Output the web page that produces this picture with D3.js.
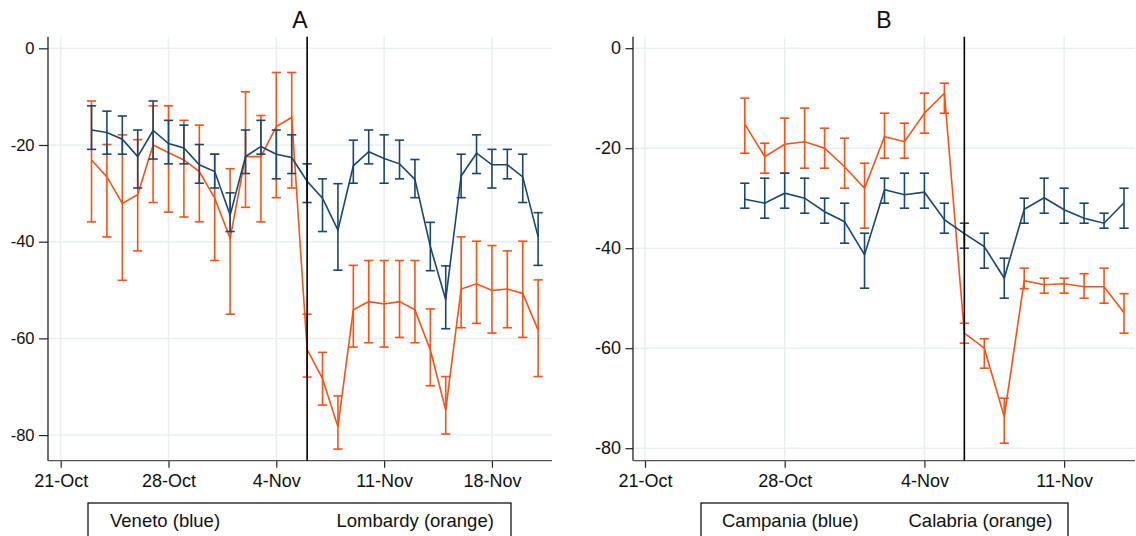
<!DOCTYPE html>
<html lang="en">
<head>
  <meta charset="utf-8">
  <title>Regional mobility around 6 Nov</title>
  <script src="https://d3js.org/d3.v7.min.js"></script>
  <style>
    body { margin: 0; background: #fff; }
    text { font-family: "Liberation Sans", Arial, sans-serif; fill: #111; }
  </style>
</head>
<body>
<svg width="1136" height="536"></svg>
<script>
  // ---- data ----
  var daysA = ["2020-10-23","2020-10-24","2020-10-25","2020-10-26","2020-10-27","2020-10-28","2020-10-29","2020-10-30","2020-10-31",
    "2020-11-01","2020-11-02","2020-11-03","2020-11-04","2020-11-05","2020-11-06","2020-11-07","2020-11-08","2020-11-09","2020-11-10",
    "2020-11-11","2020-11-12","2020-11-13","2020-11-14","2020-11-15","2020-11-16","2020-11-17","2020-11-18","2020-11-19","2020-11-20","2020-11-21"];
  var venetoMean = [-16.9,-17.4,-18.8,-22.4,-17,-19.7,-20.6,-24.1,-25.5,-34.5,-22.4,-20.3,-21.9,-22.6,-27.5,-31,-37.6,-24.3,-21.4,-22.8,-23.9,-27.1,-41,-52,-26.4,-21.7,-24.1,-24.1,-26.6,-39];
  var venetoHi   = [-11.9,-13,-14,-16.9,-10.9,-14.9,-15.9,-19.9,-21.9,-29.9,-16.9,-14.9,-16.9,-17.9,-23.9,-27,-28,-19,-16.9,-17.9,-19,-23,-36,-45,-21.9,-17.9,-20.9,-20.9,-21.9,-34];
  var venetoLo   = [-20.9,-21.9,-21.9,-28.9,-22.9,-23.9,-23.9,-27.9,-28.9,-37.9,-25.9,-21.9,-27,-25.9,-31.9,-37.9,-45.9,-27.9,-23.9,-27.9,-27,-30.9,-46,-58,-30.9,-25.9,-28.9,-27,-31.9,-44.9];
  var lombardyMean = [-23.1,-26.6,-32.1,-30.3,-20,-21.6,-23.1,-25.5,-31,-39.3,-22.4,-22.4,-16.2,-14.3,-62.3,-68.3,-78.3,-54.1,-52.4,-52.9,-52.4,-54.1,-62.4,-74.8,-49.8,-48.7,-50.1,-49.8,-50.7,-58.3];
  var lombardyHi   = [-10.9,-19.9,-17.9,-18.9,-11.9,-11.9,-14.9,-15.9,-21.9,-24.9,-9,-13.9,-5,-5,-55,-62.9,-71.9,-44.9,-43.9,-43.9,-43.9,-43.9,-53.9,-67.9,-39,-39.9,-40.8,-41.9,-39.9,-47.9];
  var lombardyLo   = [-35.9,-39,-48,-41.9,-31.9,-33.9,-34.9,-35.9,-43.9,-55,-32.9,-35.9,-30.9,-28.9,-68,-73.8,-82.9,-61.8,-60.9,-61.8,-59.8,-60.9,-69.8,-79.8,-57.8,-56.9,-58.9,-57.8,-59.8,-67.9];

  var daysB = ["2020-10-26","2020-10-27","2020-10-28","2020-10-29","2020-10-30","2020-10-31","2020-11-01","2020-11-02","2020-11-03","2020-11-04",
    "2020-11-05","2020-11-06","2020-11-07","2020-11-08","2020-11-09","2020-11-10","2020-11-11","2020-11-12","2020-11-13","2020-11-14"];
  var campaniaMean = [-30.2,-31,-29,-30,-32.7,-34.7,-41.3,-28.3,-29.3,-28.8,-34.3,-37.1,-39.7,-46,-32.2,-29.9,-32.3,-34,-35,-30.9];
  var campaniaHi   = [-27,-26,-25,-26,-30,-31,-37,-26,-25,-25,-31,-35,-37,-42,-30,-26,-28,-31,-33,-28];
  var campaniaLo   = [-32,-34,-32,-33,-35,-39,-48,-31,-32,-32,-37,-40,-44,-50,-35,-33,-35,-35,-36,-36];
  var calabriaMean = [-15.2,-21.7,-19.2,-18.7,-20,-23.7,-28,-17.7,-18.7,-13,-9,-57,-60,-73.7,-46.5,-47.3,-47.1,-47.7,-47.7,-52.9];
  var calabriaHi   = [-10,-19,-14,-12,-16,-18,-23,-13,-15,-9,-7,-55,-58.1,-70,-44,-46,-46,-45.1,-44,-49.1];
  var calabriaLo   = [-21,-25,-25,-24,-24,-28,-36,-22,-22,-17,-13,-59,-64,-79,-48.1,-49,-49,-50,-51,-57];

  var yTicks = [0, -20, -40, -60, -80];
  var xTicksA = ["2020-10-21","2020-10-28","2020-11-04","2020-11-11","2020-11-18"];
  var xTicksB = ["2020-10-21","2020-10-28","2020-11-04","2020-11-11"];
  var policyDay = "2020-11-06";

  var blue = "#1a476f", orange = "#ff4f14", grid = "#e8eff2";
  var parse = d3.timeParse("%Y-%m-%d"), fmt = d3.timeFormat("%-d-%b");
  var DAY = 864e5;

  var svg = d3.select("svg");

  function rows(days, mean, lo, hi) {
    return days.map(function(d, i) { return {date: parse(d), m: mean[i], lo: lo[i], hi: hi[i]}; });
  }

  function panel(opt) {
    var t0 = parse("2020-10-21").getTime();
    var x = d3.scaleTime()
      .domain([new Date(t0 + opt.dayMin * DAY), new Date(t0 + opt.dayMax * DAY)])
      .range([opt.left, opt.right]);
    var y = d3.scaleLinear().domain(opt.yDomain).range([460.7, 36.7]);
    var g = svg.append("g");

    // grid
    g.selectAll(".gy").data(yTicks).enter().append("line")
      .attr("x1", opt.left).attr("x2", opt.right)
      .attr("y1", d => y(d)).attr("y2", d => y(d))
      .attr("stroke", grid).attr("stroke-width", 1.5);
    g.selectAll(".gx").data(opt.xTicks.map(parse)).enter().append("line")
      .attr("x1", d => x(d)).attr("x2", d => x(d))
      .attr("y1", 36.7).attr("y2", 460.7)
      .attr("stroke", grid).attr("stroke-width", 1.5);

    // axes (plain hyphen for negatives, like the original)
    var ya = g.append("g").attr("transform", "translate(" + opt.left + ",0)")
      .call(d3.axisLeft(y).tickValues(yTicks).tickSize(opt.yTick).tickPadding(4.5).tickFormat(d => String(d)));
    ya.selectAll("text").style("font-size", opt.yFont + "px");
    var xa = g.append("g").attr("transform", "translate(0,460.7)")
      .call(d3.axisBottom(x).tickValues(opt.xTicks.map(parse)).tickSize(7).tickPadding(7).tickFormat(fmt));
    xa.selectAll("text").style("font-size", "18px");
    [ya, xa].forEach(function(a) {
      a.select(".domain").remove();
      a.selectAll("line").attr("stroke", "#222").attr("stroke-width", 1.2);
      a.selectAll("text").attr("fill", "#111")
        .style("font-family", "'Liberation Sans', Arial, sans-serif");
    });
    g.append("line").attr("x1", opt.left).attr("x2", opt.left).attr("y1", 36.7).attr("y2", 460.7)
      .attr("stroke", "#222").attr("stroke-width", 1.3);
    g.append("line").attr("x1", opt.left).attr("x2", opt.right).attr("y1", 460.7).attr("y2", 460.7)
      .attr("stroke", "#555").attr("stroke-width", 1.3);

    // series: orange first, then blue on top
    opt.series.forEach(function(s) {
      var sg = g.append("g");
      sg.append("path").datum(s.data)
        .attr("fill", "none").attr("stroke", s.color).attr("stroke-width", 1.6)
        .attr("d", d3.line().x(d => x(d.date)).y(d => y(d.m)));
      var bars = sg.selectAll(".bar").data(s.data).enter().append("g")
        .attr("stroke", s.color).attr("stroke-width", 1.6);
      bars.append("line").attr("x1", d => x(d.date)).attr("x2", d => x(d.date))
        .attr("y1", d => y(d.hi)).attr("y2", d => y(d.lo));
      bars.append("line").attr("x1", d => x(d.date) - 4.6).attr("x2", d => x(d.date) + 4.6)
        .attr("y1", d => y(d.hi)).attr("y2", d => y(d.hi));
      bars.append("line").attr("x1", d => x(d.date) - 4.6).attr("x2", d => x(d.date) + 4.6)
        .attr("y1", d => y(d.lo)).attr("y2", d => y(d.lo));
    });

    // policy line
    g.append("line").attr("x1", x(parse(policyDay))).attr("x2", x(parse(policyDay)))
      .attr("y1", 36.7).attr("y2", 460.7).attr("stroke", "#000").attr("stroke-width", 1.6);

    // title
    g.append("text").attr("x", (opt.left + opt.right) / 2).attr("y", 28)
      .attr("text-anchor", "middle").style("font-size", "23px").attr("fill", "#1a3550").text(opt.title);

    // legend
    g.append("rect").attr("x", opt.legend.x).attr("y", 503).attr("width", opt.legend.w).attr("height", 45)
      .attr("fill", "#fff").attr("stroke", "#000").attr("stroke-width", 1.2);
    g.append("text").attr("x", opt.legend.x + opt.legend.t1).attr("y", 527)
      .style("font-size", "18.5px").text(opt.series[1].name);
    g.append("text").attr("x", opt.legend.x + opt.legend.t2).attr("y", 527)
      .style("font-size", "18.5px").text(opt.series[0].name);
  }

  panel({
    title: "A", left: 48, right: 552, dayMin: -0.825, dayMax: 31.9, yDomain: [-85.3, 2.4], xTicks: xTicksA,
    yTick: 9, yFont: 16.5,
    legend: {x: 88, w: 423, t1: 22, t2: 248.5},
    series: [
      {name: "Lombardy (orange)", color: orange, data: rows(daysA, lombardyMean, lombardyLo, lombardyHi)},
      {name: "Veneto (blue)", color: blue, data: rows(daysA, venetoMean, venetoLo, venetoHi)}
    ]
  });

  panel({
    title: "B", left: 633, right: 1135, dayMin: -0.6, dayMax: 24.55, yDomain: [-82.5, 2.3], xTicks: xTicksB,
    yTick: 7.5, yFont: 18,
    legend: {x: 701, w: 367, t1: 21, t2: 207.5},
    series: [
      {name: "Calabria (orange)", color: orange, data: rows(daysB, calabriaMean, calabriaLo, calabriaHi)},
      {name: "Campania (blue)", color: blue, data: rows(daysB, campaniaMean, campaniaLo, campaniaHi)}
    ]
  });
</script>
</body>
</html>
